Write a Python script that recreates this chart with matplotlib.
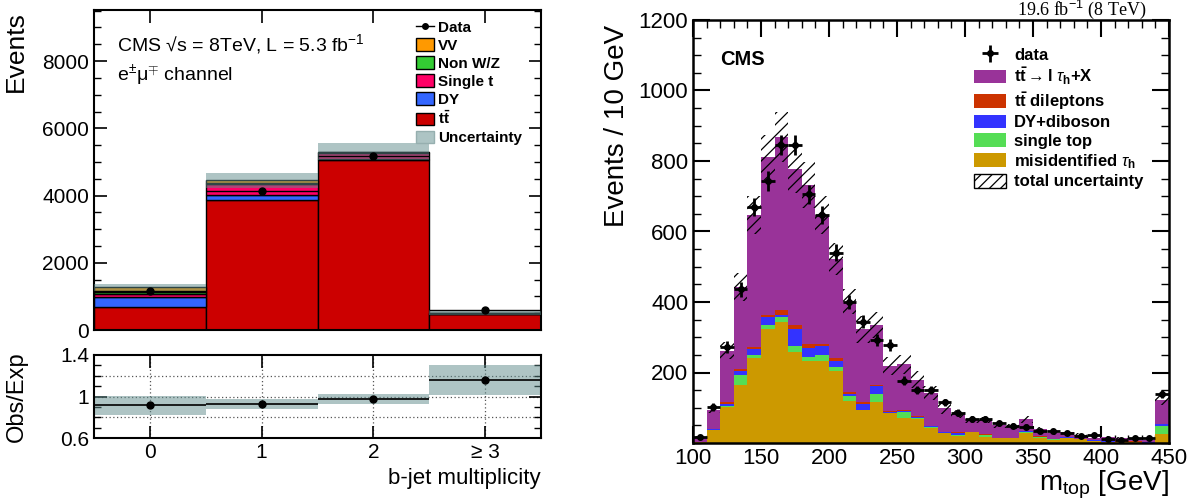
import numpy as np
import matplotlib
matplotlib.use("Agg")
import matplotlib.pyplot as plt
from matplotlib.patches import Patch
from matplotlib.lines import Line2D
from matplotlib.ticker import MultipleLocator, FixedLocator, NullFormatter

plt.rcParams['font.family'] = ['Liberation Sans', 'DejaVu Sans']
plt.rcParams['mathtext.fontset'] = 'custom'
plt.rcParams['mathtext.rm'] = 'Liberation Sans'
plt.rcParams['mathtext.it'] = 'Liberation Sans:italic'
plt.rcParams['mathtext.bf'] = 'Liberation Sans:bold'
plt.rcParams['hatch.linewidth'] = 0.9

# ---------------- left panel data (b-jet multiplicity) ----------------
bjet_cats = [0, 1, 2, 3]
bjet_labels = ['0', '1', '2', '≥ 3']
tt_vals = [690, 3880, 5060, 470]
dy_vals = [285, 150, 40, 8]
singlet_vals = [100, 300, 170, 30]
nonwz_vals = [55, 50, 20, 5]
vv_vals = [140, 70, 10, 2]
data_left = [1160, 4140, 5170, 598]
unc_left = [112, 215, 255, 75]

# ---------------- right panel data (m_top) ----------------
mtop_lo, mtop_hi, mtop_bw = 100, 450, 10
misid_tau = [3, 37, 103, 164, 242, 323, 344, 257, 233, 233, 204, 120, 93, 117, 84, 70, 67, 42,
             27, 21, 30, 18, 13, 13, 29, 13, 9, 13, 10, 7, 4, 4, 4, 1, 25]
single_top = [0, 1, 3, 29, 9, 11, 13, 19, 10, 17, 12, 13, 1, 22, 2, 19, 5, 3,
              1, 1, 0, 6, 0, 0, 3, 5, 2, 0, 0, 0, 0, 0, 0, 0, 24]
dy_diboson = [0, 1, 5, 12, 15, 23, 6, 47, 26, 25, 17, 6, 16, 23, 2, 1, 1, 2,
              3, 7, 0, 0, 1, 1, 1, 0, 1, 5, 0, 1, 1, 0, 0, 1, 4]
tt_dilep = [1, 1, 4, 4, 6, 6, 13, 12, 12, 6, 9, 7, 6, 3, 4, 4, 4, 2,
            1, 1, 1, 1, 1, 0, 0, 1, 0, 0, 1, 0, 0, 1, 1, 0, 2]
tt_ltau = [12, 54, 147, 234, 375, 447, 493, 441, 451, 366, 279, 255, 207, 170, 127, 129, 102, 92,
           66, 52, 36, 40, 36, 32, 34, 20, 15, 12, 12, 5, 13, 8, 5, 6.5, 67]
data_right = [18, 102, 273, 436, 670, 743, 845, 845, 706, 647, 540, 401, 344, 292, 278, 177, 150, 150,
              115, 86, 68, 68, 56, 49, 46, 33, 35, 27, 20, 23, 11, 9, 15, 13, 139]
unc_right = [3, 10, 24, 40, 55, 64, 71, 66, 66, 55, 45, 36, 38, 38, 26, 26, 24, 20,
             15, 12, 10, 9, 8, 7, 9, 6, 5, 5, 4, 3, 3, 3, 2, 2, 15]

W, H = 1203, 500
fig = plt.figure(figsize=(W / 100, H / 100), dpi=100)

def fx(px):
    return px / W

def fy(py):
    return 1 - py / H

unc_color = (95 / 255, 139 / 255, 139 / 255)

# ================= LEFT MAIN =================
axL = fig.add_axes([fx(94), fy(330), fx(541) - fx(94), fy(10) - fy(330)])
cats = np.array(bjet_cats, dtype=float)
left_stack = [
    (tt_vals, '#cc0000', r'$\mathbf{t\bar{t}}$'),
    (dy_vals, '#3366ff', 'DY'),
    (singlet_vals, '#ff0066', 'Single t'),
    (nonwz_vals, '#33cc33', 'Non W/Z'),
    (vv_vals, '#ff9900', 'VV'),
]
bottom = np.zeros(len(cats))
handles = {}
for vals, col, lab in left_stack:
    v = np.array(vals, dtype=float)
    axL.bar(cats, v, width=1.0, bottom=bottom, color=col, edgecolor='black', linewidth=1.0, zorder=2)
    handles[lab] = Patch(facecolor=col, edgecolor='black', linewidth=1.0, label=lab)
    bottom = bottom + v
mc_left = bottom.copy()
uncL = np.array(unc_left, dtype=float)
axL.bar(cats, 2 * uncL, width=1.0, bottom=mc_left - uncL, color=unc_color, alpha=0.5, linewidth=0, zorder=3)
dataL = np.array(data_left, dtype=float)
axL.errorbar(cats, dataL, xerr=0.5, fmt='o', color='black', ms=5, elinewidth=1.0, capsize=0, zorder=4)

axL.set_xlim(-0.5, 3.5)
axL.set_ylim(0, 9520)
axL.xaxis.set_major_locator(FixedLocator(bjet_cats))
axL.xaxis.set_major_formatter(NullFormatter())
axL.yaxis.set_major_locator(MultipleLocator(2000))
axL.yaxis.set_minor_locator(MultipleLocator(500))
axL.tick_params(axis='both', which='both', direction='in', top=True, right=True)
axL.tick_params(axis='both', which='major', length=9, width=1.2, labelsize=15)
axL.tick_params(axis='both', which='minor', length=5, width=1.0)
for s in axL.spines.values():
    s.set_linewidth(1.5)
axL.set_ylabel('Events', fontsize=19)
axL.yaxis.set_label_coords(-0.148, 0.87)
axL.text(0.051, 0.93, 'CMS √s = 8TeV, L = 5.3 fb$^{-1}$', transform=axL.transAxes,
         ha='left', va='top', fontsize=14)
axL.text(0.051, 0.835, 'e$^{\\pm}$μ$^{\\mp}$ channel', transform=axL.transAxes,
         ha='left', va='top', fontsize=14)

data_handle = Line2D([], [], color='black', marker='o', ms=4, lw=1.0)
unc_handle = Patch(facecolor=(173 / 255, 196 / 255, 196 / 255), edgecolor=(150 / 255, 175 / 255, 175 / 255), linewidth=1.0)
leg_h = [data_handle, handles['VV'], handles['Non W/Z'], handles['Single t'], handles['DY'],
         handles[r'$\mathbf{t\bar{t}}$'], unc_handle]
leg_l = ['Data', 'VV', 'Non W/Z', 'Single t', 'DY', r'$\mathbf{t\bar{t}}$', 'Uncertainty']
fig.legend(leg_h, leg_l, loc='upper left', bbox_to_anchor=(fx(416), fy(20)),
           frameon=False, prop={'weight': 'bold', 'size': 11}, handlelength=1.15,
           handleheight=0.9, labelspacing=0.22, handletextpad=0.3, borderpad=0,
           borderaxespad=0)

# ================= LEFT RATIO =================
axR = fig.add_axes([fx(94), fy(438), fx(541) - fx(94), fy(355) - fy(438)])
ratio = dataL / mc_left
rel = uncL / mc_left
axR.bar(cats, 2 * rel, width=1.0, bottom=ratio - rel, color=unc_color, alpha=0.5, linewidth=0, zorder=2)
axR.errorbar(cats, ratio, xerr=0.5, fmt='o', color='black', ms=5, elinewidth=1.2, capsize=0, zorder=4)
axR.set_xlim(-0.5, 3.5)
axR.set_ylim(0.6, 1.4)
axR.xaxis.set_major_locator(FixedLocator(bjet_cats))
axR.set_xticklabels(bjet_labels)
axR.yaxis.set_major_locator(FixedLocator([0.6, 1.0, 1.4]))
axR.set_yticklabels(['0.6', '1', '1.4'])
axR.yaxis.set_minor_locator(MultipleLocator(0.1))
axR.tick_params(axis='both', which='both', direction='in', top=True, right=True)
axR.tick_params(axis='both', which='major', length=9, width=1.2, labelsize=15)
axR.tick_params(axis='both', which='minor', length=5, width=1.0)
for yv in [0.8, 1.0, 1.2]:
    axR.axhline(yv, color='#555555', lw=0.9, ls=(0, (1, 2)), zorder=1)
for xv in bjet_cats:
    axR.axvline(xv, color='#555555', lw=0.9, ls=(0, (1, 2)), zorder=1)
for s in axR.spines.values():
    s.set_linewidth(1.5)
axR.set_ylabel('Obs/Exp', fontsize=17)
axR.yaxis.set_label_coords(-0.148, 0.5)
axR.set_xlabel('b-jet multiplicity', fontsize=16, ha='right', x=1.0)
axR.xaxis.set_label_coords(1.0, -0.36)

# ================= RIGHT PANEL =================
ax2 = fig.add_axes([fx(693), fy(443), fx(1169) - fx(693), fy(20) - fy(443)])
edges = np.arange(mtop_lo, mtop_hi + mtop_bw, mtop_bw)
centers = 0.5 * (edges[:-1] + edges[1:])
right_stack = [
    (misid_tau, '#cc9900'),
    (single_top, '#55dd55'),
    (dy_diboson, '#3333ff'),
    (tt_dilep, '#cc3300'),
    (tt_ltau, '#993399'),
]
bottom = np.zeros(len(centers))
for vals, col in right_stack:
    v = np.array(vals, dtype=float)
    ax2.stairs(bottom + v, edges, baseline=bottom.copy(), fill=True, color=col, linewidth=0, zorder=2)
    bottom = bottom + v
mc_right = bottom.copy()
uncR = np.array(unc_right, dtype=float)
ax2.bar(centers, 2 * uncR, width=mtop_bw, bottom=mc_right - uncR, facecolor='none',
        edgecolor='black', hatch='///', linewidth=0, zorder=3)
dataR = np.array(data_right, dtype=float)
eb = ax2.errorbar(centers, dataR, xerr=mtop_bw / 2, yerr=np.sqrt(dataR), fmt='o', color='black',
                  ms=4, elinewidth=2.0, capsize=0, zorder=5)

ax2.set_xlim(mtop_lo, mtop_hi)
ax2.set_ylim(0, 1200)
ax2.xaxis.set_major_locator(MultipleLocator(50))
ax2.xaxis.set_minor_locator(MultipleLocator(10))
ax2.yaxis.set_major_locator(FixedLocator([200, 400, 600, 800, 1000, 1200]))
ax2.yaxis.set_minor_locator(MultipleLocator(50))
ax2.tick_params(axis='both', which='both', direction='in', top=True, right=True)
ax2.tick_params(axis='both', which='major', length=12, width=1.5, labelsize=16)
ax2.tick_params(axis='both', which='minor', length=6, width=1.0)
for s in ax2.spines.values():
    s.set_linewidth(1.8)
ax2.set_ylabel('Events / 10 GeV', fontsize=20)
ax2.yaxis.set_label_coords(-0.132, 0.75)
ax2.set_xlabel(r'm$_{\mathrm{top}}$ [GeV]', fontsize=20, ha='right')
ax2.xaxis.set_label_coords(1.0, -0.06)
ax2.text(0.057, 0.93, 'CMS', transform=ax2.transAxes, ha='left', va='top', fontsize=14.5,
         fontweight='bold')
fig.text(fx(1146), fy(15), '19.6 fb$^{-1}$ (8 TeV)', ha='right', va='baseline', fontsize=13,
         family=['Liberation Serif', 'DejaVu Serif'])

r_handles = [eb,
             Patch(facecolor='#993399', edgecolor='none'),
             Patch(facecolor='#cc3300', edgecolor='none'),
             Patch(facecolor='#3333ff', edgecolor='none'),
             Patch(facecolor='#55dd55', edgecolor='none'),
             Patch(facecolor='#cc9900', edgecolor='none'),
             Patch(facecolor='white', edgecolor='black', hatch='///', linewidth=1.0)]
r_labels = ['data', r'$\mathbf{t\bar{t}}\rightarrow\mathbf{l}\ \tau_{\mathbf{h}}$+X', r'$\mathbf{t\bar{t}}$ dileptons',
            'DY+diboson', 'single top', r'misidentified $\tau_{\mathbf{h}}$', 'total uncertainty']
fig.legend(r_handles, r_labels, loc='upper left', bbox_to_anchor=(fx(974), fy(47)),
           frameon=False, prop={'weight': 'bold', 'size': 12}, handlelength=1.9,
           handleheight=0.9, labelspacing=0.18, handletextpad=0.5, borderpad=0, borderaxespad=0)

fig.savefig('out.png', dpi=100)
